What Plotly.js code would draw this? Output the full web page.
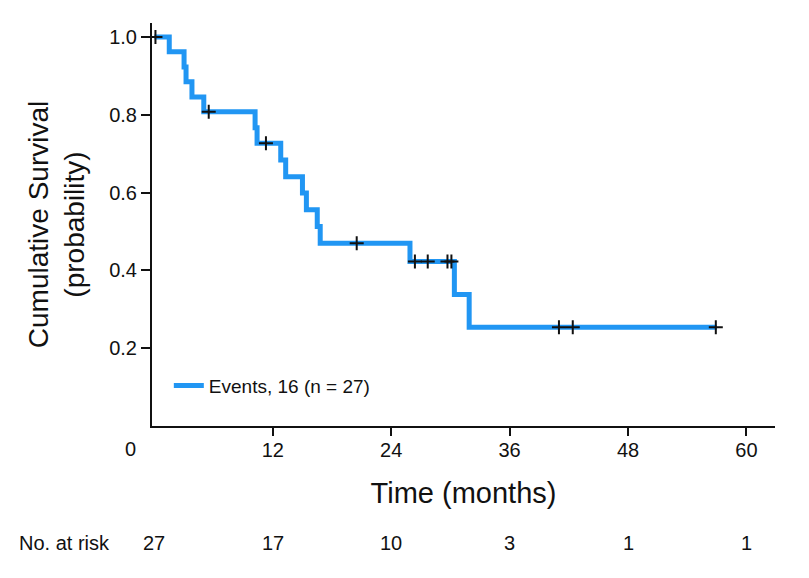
<!DOCTYPE html>
<html>
<head>
<meta charset="utf-8">
<script src="https://cdn.plot.ly/plotly-3.0.1.min.js"></script>
<style>html,body{margin:0;padding:0;background:#fff;}#chart{width:809px;height:578px;}</style>
</head>
<body>
<div id="chart"></div>
<script>
// Kaplan-Meier step curve (months, survival probability)
const kmTime = [0, 1.5, 3.0, 3.2, 3.8, 5.0, 10.2, 10.4, 12.8, 13.3, 15.0, 15.4, 16.5, 16.8, 25.9, 30.4, 31.9, 57.0];
const kmSurv = [1.0, 0.962, 0.923, 0.885, 0.846, 0.808, 0.767, 0.727, 0.684, 0.641, 0.599, 0.556, 0.513, 0.470, 0.423, 0.338, 0.254, 0.254];
// Censored observations
const censorTime = [0.1, 5.5, 11.3, 20.5, 26.4, 27.7, 29.7, 30.1, 41.0, 42.4, 56.9];
const censorSurv = [1.0, 0.808, 0.727, 0.470, 0.423, 0.423, 0.423, 0.423, 0.254, 0.254, 0.254];
// Axis ticks
const xTickVals = [12, 24, 36, 48, 60];
const xTickText = ["12", "24", "36", "48", "60"];
const xZeroLabel = "0";
const yTickVals = [0.2, 0.4, 0.6, 0.8, 1.0];
const yTickText = ["0.2", "0.4", "0.6", "0.8", "1.0"];
// Number at risk table
const riskTimes = [0, 12, 24, 36, 48, 60];
const riskCounts = [27, 17, 10, 3, 1, 1];
const legendName = "Events, 16 (n = 27)";

const FONT = "'Liberation Sans', Arial, sans-serif";
const BLUE = "#2196F3";
const INK = "#111111";

const traces = [
  {
    x: kmTime, y: kmSurv, type: "scatter", mode: "lines",
    line: {shape: "hv", color: BLUE, width: 5},
    name: legendName, showlegend: true, hoverinfo: "x+y"
  },
  {
    x: censorTime, y: censorSurv, type: "scatter", mode: "markers",
    marker: {symbol: "cross-thin", size: 10, color: INK, line: {color: INK, width: 2}},
    showlegend: false, hoverinfo: "x+y"
  }
];

const annotations = [];
annotations.push({
  xref: "paper", yref: "paper", x: -0.034, y: -0.057, xanchor: "center", yanchor: "middle",
  text: xZeroLabel, showarrow: false, font: {family: FONT, size: 20, color: INK}
});
riskTimes.forEach((t, i) => {
  annotations.push({
    xref: "x", yref: "paper", x: t, y: -0.29, xanchor: "center", yanchor: "middle",
    text: String(riskCounts[i]), showarrow: false, font: {family: FONT, size: 20, color: INK}
  });
});
annotations.push({
  xref: "paper", yref: "paper", x: -0.064, y: -0.29, xanchor: "right", yanchor: "middle",
  text: "No. at risk", showarrow: false, font: {family: FONT, size: 20, color: INK}
});

const layout = {
  width: 809, height: 578,
  margin: {l: 152, r: 34, t: 23, b: 152},
  paper_bgcolor: "#ffffff", plot_bgcolor: "#ffffff",
  font: {family: FONT, color: INK},
  showlegend: true,
  legend: {
    x: 0.027, y: 0.10, xanchor: "left", yanchor: "middle",
    bgcolor: "rgba(0,0,0,0)", borderwidth: 0,
    font: {family: FONT, size: 19, color: INK}
  },
  xaxis: {
    range: [-0.25, 62.9],
    tickmode: "array", tickvals: xTickVals, ticktext: xTickText,
    ticks: "outside", ticklen: 8, tickwidth: 2, tickcolor: INK,
    ticklabelstandoff: -3,
    showline: true, linecolor: INK, linewidth: 2,
    showgrid: false, zeroline: false,
    tickfont: {family: FONT, size: 20, color: INK},
    title: {text: "Time (months)", font: {family: FONT, size: 29, color: INK}, standoff: 23},
    automargin: false
  },
  yaxis: {
    range: [0, 1.036],
    tickmode: "array", tickvals: yTickVals, ticktext: yTickText,
    ticks: "outside", ticklen: 9, tickwidth: 2, tickcolor: INK,
    showline: true, linecolor: INK, linewidth: 2,
    showgrid: false, zeroline: false,
    tickfont: {family: FONT, size: 20, color: INK},
    title: {text: "Cumulative Survival<br>(probability)", font: {family: FONT, size: 28, color: INK}, standoff: 16},
    automargin: false
  },
  annotations: annotations
};

Plotly.newPlot("chart", traces, layout, {displayModeBar: false, staticPlot: true});
</script>
</body>
</html>
